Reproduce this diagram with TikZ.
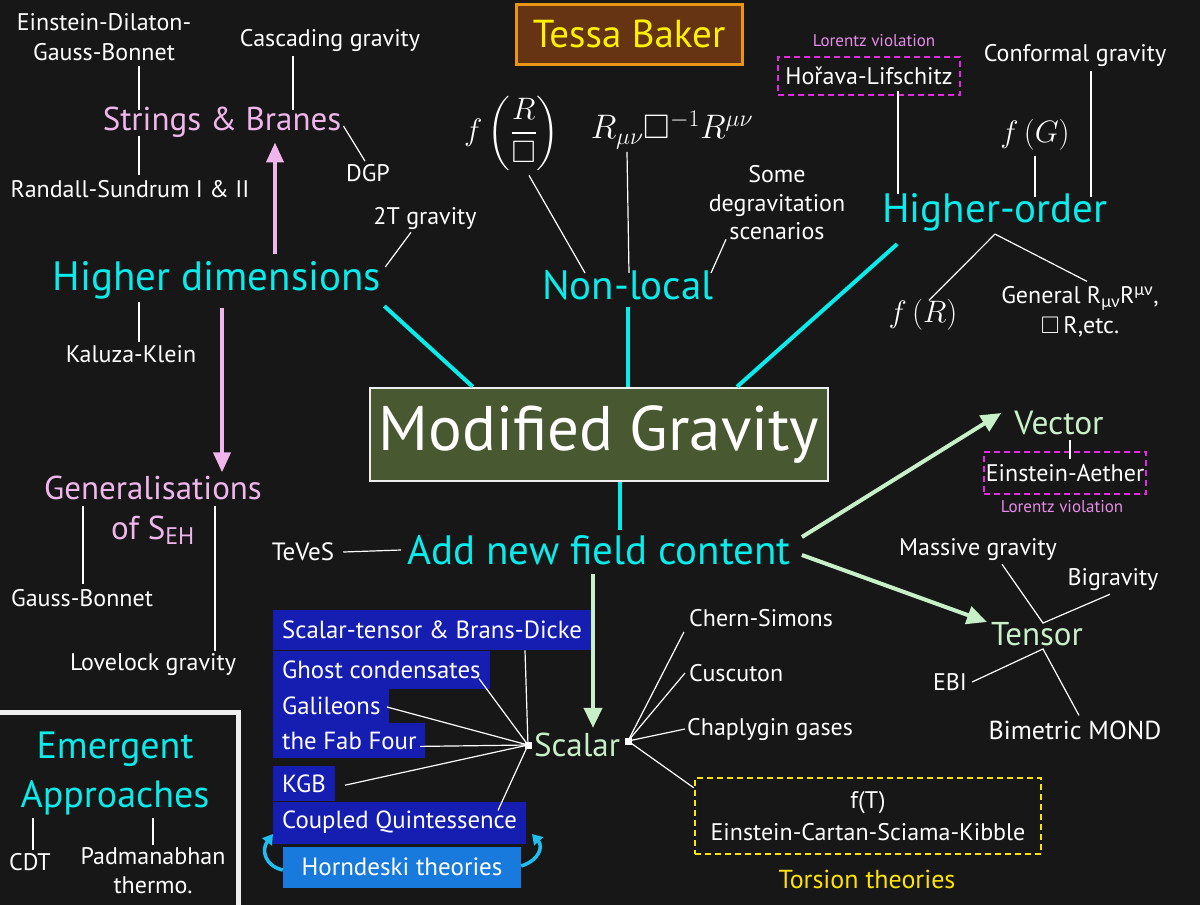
\RequirePackage{fix-cm}
\documentclass[tikz,border=0pt]{standalone}
\usepackage{amsmath,amssymb}
\usepackage[no-math]{fontspec}
\setmainfont{PT Sans}
\newfontfamily\grk{Lato}
\usetikzlibrary{arrows.meta}
\newcommand\fs[2]{\fontsize{#1}{#2}\selectfont}
\definecolor{bgc}{RGB}{23,23,23}
\definecolor{cyanc}{RGB}{10,235,235}
\definecolor{pinkc}{RGB}{240,182,236}
\definecolor{greenc}{RGB}{200,240,200}
\definecolor{magc}{RGB}{228,40,228}
\definecolor{lorc}{RGB}{230,140,230}
\definecolor{yelc}{RGB}{255,228,0}
\definecolor{bluec}{RGB}{22,30,178}
\definecolor{hornc}{RGB}{25,122,222}
\definecolor{harrc}{RGB}{30,190,240}
\definecolor{mgfill}{RGB}{72,88,48}
\definecolor{tbfill}{RGB}{102,52,18}
\definecolor{tbdraw}{RGB}{232,150,22}
\definecolor{tbtext}{RGB}{255,242,0}
\definecolor{framec}{RGB}{238,238,238}
\tikzset{
  lbl/.style={text=white, font=\fs{24}{30}, inner sep=1pt, align=center},
  hdr/.style={text=cyanc, font=\fs{41}{48}, inner sep=1pt, align=center},
  pnk/.style={text=pinkc, font=\fs{33}{40}, inner sep=1pt, align=center},
  grn/.style={text=greenc, font=\fs{33}{38}, inner sep=1pt},
  mth/.style={text=white, font=\fs{31}{36}, inner sep=1pt},
  lorentz/.style={text=lorc, font=\fs{17}{20}, inner sep=1pt},
  wline/.style={draw=white, line width=1.2pt},
  cline/.style={draw=cyanc, line width=4pt},
  parr/.style={draw=pinkc, line width=4pt, -{Triangle[length=20pt,width=17pt]}},
  garr/.style={draw=greenc, line width=4pt, -{Triangle[length=20pt,width=18pt]}},
  harr/.style={draw=harrc, line width=3.5pt, -{Triangle[length=10pt,width=12pt]}},
  bluerow/.style={fill=bluec, text=white, font=\fs{24.8}{28}, anchor=north west, inner xsep=9pt, inner ysep=0pt},
  lvbox/.style={draw=magc, dash pattern=on 6pt off 4pt, line width=2.5pt, text=white, font=\fs{24}{30}, inner sep=0pt},
  sq/.style={fill=white, minimum size=7pt, inner sep=0pt},
}
\begin{document}
\begin{tikzpicture}[x=1pt,y=-1pt]
\fill[bgc] (0,0) rectangle (1200,905);
\useasboundingbox (0,0) rectangle (1200,905);

% title
\node[fill=tbfill, draw=tbdraw, line width=3pt, minimum width=226, minimum height=60, text=tbtext, font=\fs{39}{44}] (tb) at (629,34) {Tessa Baker};

% central box
\node[fill=mgfill, draw=framec, line width=2.5pt, minimum width=458, minimum height=93, text=white, font=\fs{63}{70}] (mg) at (599,434.5) {Modified Gravity};

% main branches
\node[hdr] (hd) at (217,280) {Higher dimensions};
\node[hdr] (nl) at (628,285) {Non-local};
\node[hdr] (ho) at (995,212) {Higher-order};
\node[hdr] (af) at (599,550) {Add new field content};

\draw[cline] ([xshift=104]mg.north west) -- ([xshift=2,yshift=-6]hd.south east);
\draw[cline] ([xshift=29]mg.north) -- ([yshift=-6]nl.south);
\draw[cline] ([xshift=138]mg.north) -- ([xshift=16,yshift=-12]ho.south west);
\draw[cline] ([xshift=21]mg.south) -- ([xshift=21,yshift=4]af.north);

% higher dimensions
\node[pnk] (sb) at (222,122) {Strings \& Branes};
\node[pnk, font=\fs{33}{40}] (gen) at (153,510) {Generalisations\\of S\textsubscript{\fs{24}{24}EH}};
\draw[parr] ([xshift=58,yshift=6]hd.north) -- ([xshift=53,yshift=-4]sb.south);
\draw[parr] ([xshift=5,yshift=-8]hd.south) -- ([xshift=69,yshift=2]gen.north);

\node[lbl] (edgb) at (104,37) {Einstein-Dilaton-\\Gauss-Bonnet};
\node[lbl] (cas) at (330,40) {Cascading gravity};
\node[lbl] (rs) at (130,189) {Randall-Sundrum I \& II};
\node[lbl] (dgp) at (368,173) {DGP};
\node[lbl] (tt) at (425,218) {2T gravity};
\node[lbl] (kk) at (131,354) {Kaluza-Klein};
\node[lbl] (gb) at (82,598) {Gauss-Bonnet};
\node[lbl] (lv) at (153,665) {Lovelock gravity};
\node[lbl, font=\fs{25}{30}] (tv) at (303,552) {TeVeS};

\draw[wline] ([xshift=35,yshift=-4]edgb.south) -- ([xshift=-83,yshift=-4]sb.north);
\draw[wline] ([xshift=-83,yshift=2]sb.south) -- ([xshift=9,yshift=4]rs.north);
\draw[wline] ([xshift=-37,yshift=-4]cas.south) -- ([xshift=71,yshift=-4]sb.north);
\draw[wline] ([xshift=1,yshift=-4]sb.east) -- ([xshift=-3,yshift=2]dgp.north);
\draw[wline] ([xshift=3,yshift=-7]hd.north east) -- ([xshift=-14,yshift=-2]tt.south);
\draw[wline] ([xshift=-78,yshift=-2]hd.south) -- ([xshift=8,yshift=2]kk.north);
\draw[wline] ([xshift=-70,yshift=4]gen.center) -- ([xshift=1,yshift=4]gb.north);
\draw[wline] ([xshift=62,yshift=4]gen.center) -- ([xshift=62,yshift=2]lv.north);
\draw[wline] ([xshift=8]tv.east) -- ([xshift=-5]af.west);

% non-local
\node[mth] (fRb) at (512,133) {$\displaystyle f\left(\frac{R}{\square}\right)$};
\node[mth, font=\fs{34}{38}] (Rm) at (672,130) {$R_{\mu\nu}\square^{-1}R^{\mu\nu}$};
\node[lbl, font=\fs{24}{28.5}] (deg) at (777,203) {Some\\degravitation\\scenarios};
\draw[wline] ([xshift=17,yshift=-4]fRb.south) -- ([xshift=-43,yshift=-4]nl.north);
\draw[wline] ([xshift=-45,yshift=-2]Rm.south) -- ([xshift=1,yshift=-4]nl.north);
\draw[wline] ([xshift=-51,yshift=2]deg.south) -- ([xshift=83,yshift=-4]nl.north);

% higher-order
\node[lorentz] (lvh) at (874,41) {Lorentz violation};
\node[lvbox, minimum width=182, minimum height=38] (hl) at (869,76) {Hořava-Lifschitz};
\node[lbl] (cg) at (1075,55) {Conformal gravity};
\node[mth] (fG) at (1035,135) {$f\left(G\right)$};
\node[mth] (fR) at (923,315) {$f\left(R\right)$};
\node[lbl] (gr) at (1080,312) {General R\textsubscript{\grk μν}R\textsuperscript{\grk μν},\\$\square$\,R,etc.};
\draw[wline] ([xshift=29,yshift=5]hl.south) -- ([xshift=-97,yshift=-2]ho.north);
\draw[wline] ([xshift=16,yshift=-4]cg.south) -- ([xshift=96,yshift=-5]ho.north);
\draw[wline] ([yshift=-4]fG.south) -- ([xshift=40,yshift=-5]ho.north);
\draw[wline] ([yshift=-2]ho.south) -- ([xshift=6,yshift=-2]fR.north);
\draw[wline] ([yshift=-2]ho.south) -- ([xshift=7,yshift=4]gr.north);

% vector
\node[grn, font=\fs{33.5}{38}] (vec) at (1059,423) {Vector};
\node[lvbox, minimum width=162, minimum height=42] (ea) at (1065,473) {Einstein-Aether};
\node[lorentz] (lve) at (1062,507) {Lorentz violation};
\draw[wline] ([xshift=11,yshift=-4]vec.south) -- ([xshift=5,yshift=-8]ea.north);

% tensor
\node[grn] (ten) at (1037,634) {Tensor};
\node[lbl] (mgv) at (978,550) {Massive gravity};
\node[lbl] (big) at (1113,580) {Bigravity};
\node[lbl] (ebi) at (950,682) {EBI};
\node[lbl, font=\fs{26}{30}] (bm) at (1075,730) {Bimetric MOND};
\draw[wline] ([xshift=24,yshift=-2]mgv.south) -- ([xshift=6,yshift=-2]ten.north) -- ([xshift=-3,yshift=-2]big.south);
\draw[wline] ([xshift=4]ebi.east) -- ([xshift=6,yshift=-2]ten.south) -- ([xshift=4,yshift=4]bm.north);

\draw[garr] ([xshift=10,yshift=13]af.east) -- ([xshift=-12,yshift=10]vec.west);
\draw[garr] ([xshift=10,yshift=-5]af.east) -- ([xshift=-3,yshift=12]ten.west);

% scalar
\node[grn] (sc) at (577,745) {Scalar};
\draw[garr] ([xshift=-6,yshift=-8]af.south) -- ([xshift=16,yshift=4]sc.north);
\node[sq] (sqL) at (528,745) {};
\node[sq] (sqR) at (628,741) {};

\node[bluerow, minimum height=40] (s1) at (273,610) {Scalar-tensor \& Brans-Dicke};
\node[bluerow, minimum height=38] (s2) at (s1.south west) {Ghost condensates};
\node[bluerow, minimum height=34] (s3) at (s2.south west) {Galileons};
\node[bluerow, minimum height=35] (s4) at (s3.south west) {the Fab Four};
\node[bluerow, minimum height=35] (s5) at (273,766) {KGB};
\node[bluerow, minimum height=42] (s6) at (s5.south west) {Coupled Quintessence};
\node[fill=hornc, text=white, font=\fs{25}{30}, minimum width=238, minimum height=41, inner sep=0pt] (hn) at (402,867) {Horndeski theories};
\draw[harr] ([yshift=-3]hn.west) .. controls (265,866) and (261,850) .. (273,834);
\draw[harr] ([yshift=1]hn.east) .. controls (540,860) and (543,846) .. (532,834);

\draw[wline] (sqL.center) -- ([xshift=252]s1.south west);
\draw[wline] (sqL.center) -- ([xshift=206,yshift=-9]s2.west);
\draw[wline] (sqL.center) -- ([xshift=114,yshift=-1]s3.west);
\draw[wline] (sqL.center) -- ([xshift=147,yshift=-5.5]s4.west);
\draw[wline] (sqL.center) -- ([xshift=72,yshift=-1.5]s5.west);
\draw[wline] (sqL.center) -- ([xshift=225,yshift=-9]s6.north west);

\node[lbl, anchor=west] (cs) at (688,618) {Chern-Simons};
\node[lbl, anchor=west] (cu) at (688,673) {Cuscuton};
\node[lbl, anchor=west] (ch) at (686,729) {Chaplygin gases};
\node[draw=yelc, dash pattern=on 6pt off 4pt, line width=2.5pt, text=white, font=\fs{24}{32}, align=center, minimum width=346, minimum height=76, inner sep=0pt] (tor) at (868,816) {f(T)\\Einstein-Cartan-Sciama-Kibble};
\node[text=yelc, font=\fs{26}{30}, inner sep=1pt] (tth) at (867,879) {Torsion theories};
\draw[wline] (sqR.center) -- ([xshift=-4,yshift=-4]cs.south west);
\draw[wline] (sqR.center) -- ([xshift=-3]cu.west);
\draw[wline] (sqR.center) -- ([xshift=-1]ch.west);
\draw[wline] (sqR.center) -- ([yshift=-11]tor.north west);

% emergent
\node[draw=framec, line width=5pt, minimum width=250, minimum height=210, anchor=north west, inner sep=0pt] (ebox) at (-14,710) {};
\node[hdr, font=\fs{38}{49}] (em) at (115,773) {Emergent\\Approaches};
\node[lbl] (cdt) at (30,862) {CDT};
\node[lbl, font=\fs{24}{29}] (pad) at (153,871) {Padmanabhan\\thermo.};
\draw[wline] ([xshift=-82,yshift=-2]em.south) -- ([xshift=3,yshift=2]cdt.north);
\draw[wline] ([xshift=38,yshift=-2]em.south) -- ([yshift=2]pad.north);
\end{tikzpicture}
\end{document}
